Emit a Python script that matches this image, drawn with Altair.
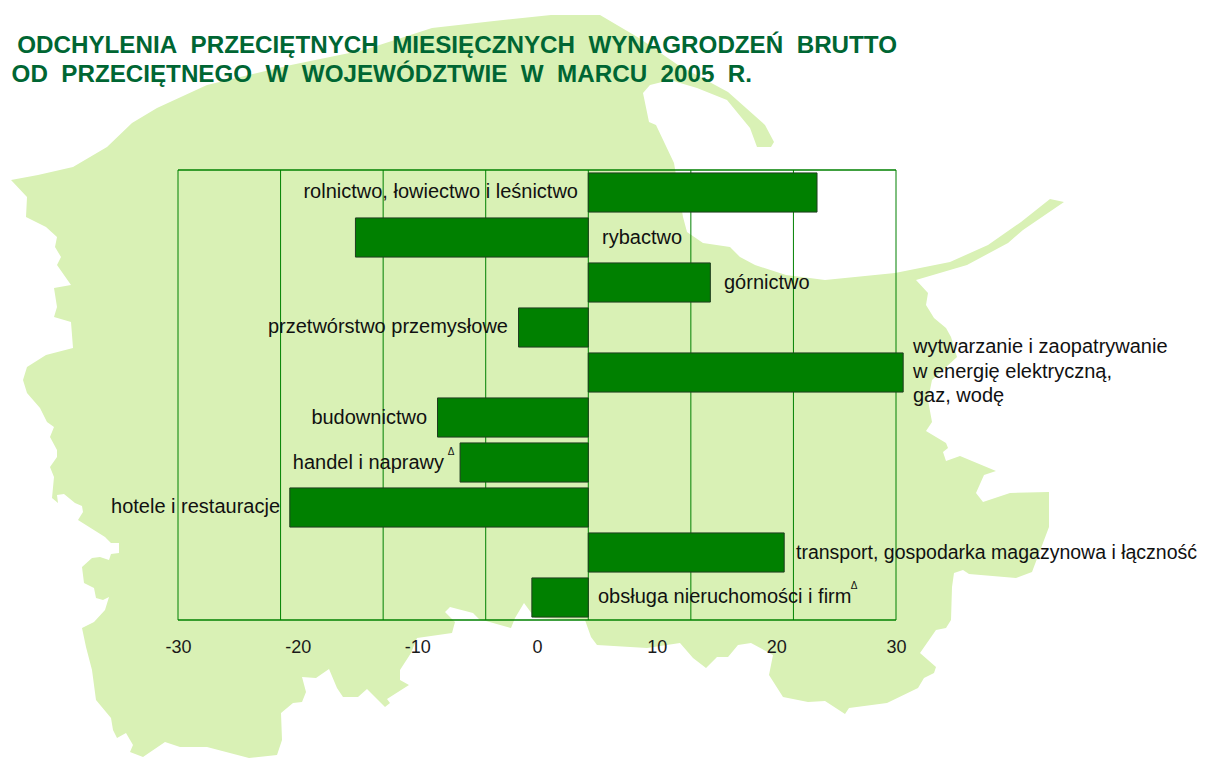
import altair as alt
import pandas as pd

CATEGORIES = ["rolnictwo", "rybactwo", "górnictwo", "przetwórstwo", "energia",
              "budownictwo", "handel", "hotele", "transport", "obsługa"]
VALUES = [22.3, -22.7, 11.9, -6.8, 30.7, -14.7, -12.5, -29.1, 19.1, -5.5]

GRID_VALUES = [-40, -30, -20, -10, 0, 10, 20, 30]
AXIS_VALUES = [-30, -20, -10, 0, 10, 20, 30]

TITLE_1 = "ODCHYLENIA\u00a0\u00a0PRZECIĘTNYCH\u00a0\u00a0MIESIĘCZNYCH\u00a0\u00a0WYNAGRODZEŃ\u00a0\u00a0BRUTTO"
TITLE_2 = "OD\u00a0\u00a0PRZECIĘTNEGO\u00a0\u00a0W\u00a0\u00a0WOJEWÓDZTWIE\u00a0\u00a0W\u00a0\u00a0MARCU\u00a0\u00a02005\u00a0\u00a0R."

# outline of the region behind the chart
MAP_X = [600,551,494,432,364,291,207,157,132,107,73,38,11,27,26,46,57,55,61,57,71,54,57,54,71,73,46,27,23,
         27,40,47,54,50,57,57,50,54,52,58,57,64,75,82,83,78,105,111,119,119,111,109,100,92,82,84,94,96,103,109,
         105,94,82,86,92,96,111,113,117,126,133,130,143,165,180,207,249,277,282,281,293,302,306,302,316,329,337,
         343,358,367,385,390,387,409,400,400,411,417,452,455,445,450,473,480,486,511,515,524,535,585,591,597,
         647,680,693,706,717,728,738,751,773,769,783,808,825,845,849,887,918,924,934,936,920,936,946,951,952,954,
         963,969,1016,1032,1049,1049,1010,983,976,984,996,960,946,943,948,946,926,932,928,932,957,951,946,934,926,928,916,
         967,1008,1023,1064,1050,1021,988,950,895,825,786,755,740,730,703,687,683,674,656,649,643,
         650,670,697,727,750,757,771,774,765,728,678,639]
MAP_Y = [15,15,21,28,50,65,85,108,123,147,167,175,180,197,217,227,237,247,257,265,285,288,307,317,322,348,355,367,380,
         393,408,422,427,437,450,457,467,477,498,503,495,494,503,506,512,520,537,543,543,553,554,560,557,558,567,583,588,598,600,597,
         610,622,628,647,670,700,718,730,738,733,745,752,757,742,747,747,758,755,740,713,703,702,692,677,678,669,688,
         697,697,689,707,703,699,685,680,670,653,638,633,622,612,607,613,620,621,628,618,603,618,620,637,645,
         648,643,658,668,657,657,645,643,655,675,697,702,701,714,708,703,688,678,673,667,653,630,628,620,587,573,
         570,574,578,572,527,492,493,502,493,475,471,456,461,452,448,443,431,422,400,380,357,337,328,318,305,293,280,
         265,243,230,202,199,222,245,262,273,280,275,265,257,247,243,232,217,163,125,122,93,
         85,80,88,100,128,147,147,142,125,92,65,38]

# label texts and where they sit on the page
LEFT_LABELS = ["rybactwo", "górnictwo", "wytwarzanie i zaopatrywanie\nw energię elektryczną,\ngaz, wodę",
               "obsługa nieruchomości i firm"]
LEFT_X = [602, 724, 913, 598]
LEFT_Y = [238, 283, 347, 597]
WIDE_LABEL = ["transport, gospodarka magazynowa i łączność"]
WIDE_X = [796]
WIDE_Y = [553]
RIGHT_LABELS = ["rolnictwo, łowiectwo i leśnictwo", "przetwórstwo przemysłowe", "budownictwo",
                "handel i naprawy", "hotele i restauracje"]
RIGHT_X = [578, 508, 427, 444, 280]
RIGHT_Y = [192, 327, 418, 463, 507]
NOTE_X = [451, 854]
NOTE_Y = [452, 586]

PLOT_L, PLOT_T, PLOT_W, PLOT_H = 178, 170, 718, 450
PAD_L, PAD_T = PLOT_L - 8, PLOT_T - 8
FONT = "Liberation Sans"
GREEN = "#008000"

ring = [[x, y] for x, y in zip(MAP_X, MAP_Y)]
ring.append(ring[0])
feature = {"type": "Feature", "properties": {},
           "geometry": {"type": "Polygon", "coordinates": [ring]}}

background = alt.Chart(alt.InlineData(values=[feature], format={"type": "json"})).mark_geoshape(
    fill="#D9F1B5", strokeWidth=0, clip=False
).project(type="identity", scale=1, translate=[-PLOT_L, -PLOT_T])

x_bar = alt.Scale(domain=[-40, 30], nice=False, zero=False)

grid = alt.Chart(pd.DataFrame({"v": GRID_VALUES})).mark_rule(color=GREEN, strokeWidth=1).encode(
    x=alt.X("v:Q", scale=x_bar,
            axis=alt.Axis(labels=False, ticks=False, domain=False, grid=False, title=None, orient="bottom"))
)
frame = alt.Chart(pd.DataFrame({"y": [0, PLOT_H]})).mark_rule(color=GREEN, strokeWidth=1.5).encode(
    y=alt.Y("y:Q", scale=None), x=alt.value(0), x2=alt.value(PLOT_W)
)

bars = alt.Chart(pd.DataFrame({"c": CATEGORIES, "v": VALUES})).mark_bar(
    color=GREEN, stroke="#1f3d1f", strokeWidth=1
).encode(
    x=alt.X("v:Q", scale=x_bar, axis=None),
    y=alt.Y("c:N", sort=CATEGORIES, axis=None,
            scale=alt.Scale(paddingInner=0.13, paddingOuter=0.065)),
)

axis_layer = alt.Chart(pd.DataFrame({"v": AXIS_VALUES})).mark_point(opacity=0).encode(
    x=alt.X("v:Q",
            scale=alt.Scale(domain=[-30, 30], nice=False, zero=False),
            axis=alt.Axis(values=AXIS_VALUES, labelExpr="'' + datum.value", title=None, orient="bottom",
                          domain=False, ticks=False, grid=False, labelFont=FONT, labelFontSize=18,
                          labelColor="#1a1a1a", labelPadding=18, labelAngle=0,
                          labelFlush=False, labelOverlap=False, zindex=1))
)


def text_layer(labels, xs, ys, align, size=20):
    df = pd.DataFrame({"t": labels, "px": [x - PLOT_L for x in xs], "py": [y - PLOT_T for y in ys]})
    return alt.Chart(df).mark_text(
        align=align, baseline="middle", font=FONT, fontSize=size, color="#111111",
        lineBreak="\n", lineHeight=24.5
    ).encode(x=alt.X("px:Q", scale=None, axis=None), y=alt.Y("py:Q", scale=None, axis=None), text="t:N")


left_text = text_layer(LEFT_LABELS, LEFT_X, LEFT_Y, "left")
wide_text = text_layer(WIDE_LABEL, WIDE_X, WIDE_Y, "left", size=19.5)
right_text = text_layer(RIGHT_LABELS, RIGHT_X, RIGHT_Y, "right")
notes = text_layer(["Δ", "Δ"], NOTE_X, NOTE_Y, "center", size=10)

title_df = pd.DataFrame({"t": [TITLE_1, TITLE_2],
                         "px": [897 - PLOT_L, 752 - PLOT_L],
                         "py": [53 - PLOT_T, 82 - PLOT_T]})
title = alt.Chart(title_df).mark_text(
    align="right", baseline="alphabetic", font=FONT, fontSize=24.2, fontWeight="bold", color="#006633"
).encode(x=alt.X("px:Q", scale=None, axis=None), y=alt.Y("py:Q", scale=None, axis=None), text="t:N")

chart = alt.layer(
    background, grid, bars, frame, axis_layer, left_text, wide_text, right_text, notes, title
).resolve_scale(x="independent", y="independent").properties(
    width=PLOT_W, height=PLOT_H,
    autosize=alt.AutoSizeParams(type="none"),
    padding={"left": PAD_L, "top": PAD_T, "right": 1193 - PAD_L - PLOT_W, "bottom": 750 - PAD_T - PLOT_H},
).configure_view(stroke=None)

chart.save("out.html", embed_options={"renderer": "svg", "actions": False})
